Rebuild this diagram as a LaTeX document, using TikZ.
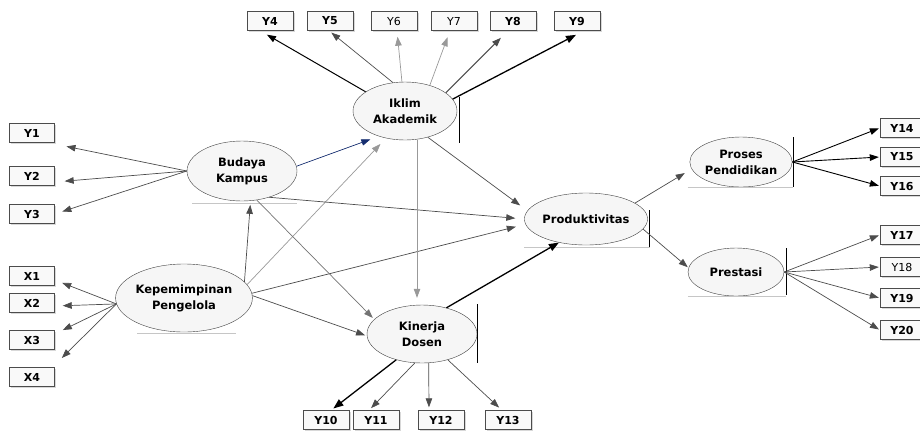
\documentclass[tikz,border=0pt]{standalone}
\usepackage{fontspec}
\setmainfont{DejaVu Sans}
\usetikzlibrary{arrows.meta,shapes.geometric,shadows}
\definecolor{navy}{RGB}{22,46,112}

\begin{document}
\begin{tikzpicture}[x=1pt,y=-1pt,
    latent/.style={ellipse,draw=black!75,fill=gray!7,inner sep=0pt,align=center,
        font=\bfseries\fontsize{11.5}{16}\selectfont},
    ind/.style={draw=black!70,fill=gray!5,minimum width=46pt,minimum height=19pt,inner sep=0pt,
        font=\bfseries\fontsize{11}{13}\selectfont,
        drop shadow={shadow xshift=1.5pt,shadow yshift=-1.5pt,fill=black!30}},
    thin ind/.style={ind,font=\fontsize{11}{13}\selectfont},
    load/.style={draw=black!70,line width=0.7pt,-{Triangle[length=9pt,width=6.5pt]}},
    faint/.style={load,draw=black!40},
    heavy/.style={load,draw=black,line width=1.3pt,-{Triangle[length=10pt,width=7.5pt]}},
    cornerbar/.style={draw=black,line width=0.9pt},
    floorln/.style={draw=gray!45,line width=0.6pt}]
    \useasboundingbox (0,0) rectangle (920,432);

    % latent variables
    \node[latent,minimum width=110pt,minimum height=60pt] (bk) at (242,171) {Budaya\\Kampus};
    \node[latent,minimum width=102pt,minimum height=68pt] (kp) at (184,298) {Kepemimpinan\\Pengelola};
    \node[latent,minimum width=104pt,minimum height=58pt] (ia) at (405,111) {Iklim\\Akademik};
    \node[latent,minimum width=98pt,minimum height=52pt] (pr) at (586,219) {Produktivitas};
    \node[latent,minimum width=110pt,minimum height=58pt] (kd) at (422,334) {Kinerja\\Dosen};
    \node[latent,minimum width=92pt,minimum height=50pt] (pp) at (741,162) {Proses\\Pendidikan};
    \node[latent,minimum width=96pt,minimum height=48pt] (ps) at (736,272) {Prestasi};

    % indicators
    \foreach \n/\t/\y in {y1/Y1/133,y2/Y2/176,y3/Y3/214,x1/X1/276,x2/X2/303,x3/X3/340,x4/X4/377}
        \node[ind,minimum width=45pt] (\n) at (32,\y) {\t};
    \foreach \n/\t/\x in {y4/Y4/270,y5/Y5/330,y8/Y8/513,y9/Y9/577}
        \node[ind] (\n) at (\x,21) {\t};
    \foreach \n/\t/\x in {y6/Y6/394,y7/Y7/454}
        \node[thin ind] (\n) at (\x,21) {\t};
    \foreach \n/\t/\x in {y10/Y10/326,y11/Y11/376,y12/Y12/441,y13/Y13/508}
        \node[ind] (\n) at (\x,420) {\t};
    \foreach \n/\t/\y in {y14/Y14/128,y15/Y15/157,y16/Y16/186,y17/Y17/235,y19/Y19/298,y20/Y20/330}
        \node[ind,minimum width=44pt] (\n) at (902,\y) {\t};
    \node[thin ind,minimum width=44pt] (y18) at (902,267) {Y18};

    % corner marks
    \draw[cornerbar] ([xshift=2pt,yshift=14pt]ia.east) -- ([xshift=2pt,yshift=-32pt]ia.east);
    \draw[cornerbar] ([xshift=2pt,yshift=9pt]pr.east) -- ([xshift=2pt,yshift=-28pt]pr.east);
    \draw[cornerbar] ([yshift=30pt]kd.east) -- ([yshift=-29pt]kd.east);
    \draw[cornerbar] ([xshift=1pt,yshift=25pt]pp.east) -- ([xshift=1pt,yshift=-25pt]pp.east);
    \draw[cornerbar] ([xshift=2pt,yshift=24pt]ps.east) -- ([xshift=2pt,yshift=-23pt]ps.east);
    \draw[floorln] ([yshift=-28pt]pr.west) -- ([xshift=2pt,yshift=-28pt]pr.east);
    \draw[floorln] ([xshift=-2pt,yshift=-25pt]pp.west) -- ([xshift=1pt,yshift=-25pt]pp.east);
    \draw[floorln] ([yshift=-24pt]ps.west) -- ([xshift=2pt,yshift=-24pt]ps.east);
    \draw[floorln] ([xshift=-50pt,yshift=-2pt]bk.south) -- ([xshift=55pt,yshift=-2pt]bk.south);
    \draw[floorln] ([xshift=-47pt,yshift=-1pt]kp.south) -- ([xshift=52pt,yshift=-1pt]kp.south);

    % indicator loadings
    \foreach \n/\dy/\s in {y1/-11/12,y2/-6/10,y3/0/8}
        \draw[load,shorten >=\s pt] (bk.west) -- ([yshift=\dy pt]\n.east);
    \foreach \n/\dy/\s in {x1/-4/8,x2/-3/8,x3/6/9,x4/12/10}
        \draw[load,shorten >=\s pt] (kp.185) -- ([yshift=\dy pt]\n.east);
    \draw[load,draw=black,line width=1pt,shorten >=8pt] (ia.154) -- ([xshift=-10pt]y4.south);
    \draw[load,shorten >=3pt] (ia.113) -- ([xshift=-1pt]y5.south);
    \draw[faint,shorten >=6pt] (ia.96) -- ([xshift=3pt]y6.south);
    \draw[faint,shorten >=7pt] (ia.46) -- ([xshift=-4pt]y7.south);
    \draw[load,line width=1.1pt,shorten >=10pt] (ia.24) -- ([xshift=-5pt]y8.south);
    \draw[heavy,shorten >=9pt] (ia.14) -- ([xshift=7pt]y9.south);
    \draw[heavy,shorten >=3pt] (kd.225) -- ([xshift=5pt]y10.north);
    \draw[load,shorten >=3pt] (kd.256) -- ([xshift=-7pt]y11.north);
    \draw[load,shorten >=3pt] (kd.283) -- ([xshift=-12pt]y12.north);
    \draw[load,shorten >=4pt] (kd.315) -- ([xshift=-6pt]y13.north);
    \foreach \n in {y14,y15,y16}
        \draw[load,draw=black,line width=0.9pt,shorten >=1pt] (pp.east) -- (\n.west);
    \foreach \n in {y17,y18,y19,y20}
        \draw[load,shorten >=1pt] (ps.east) -- (\n.west);

    % structural paths
    \draw[load,draw=navy,shorten >=9pt] (bk.5) -- (ia.224);
    \draw[faint,shorten >=8pt] (kp.12) -- (ia.235);
    \draw[load,shorten >=4pt] (kp.15) -- (bk.286);
    \draw[load,shorten >=2pt] (kp.2) -- (kd.182);
    \draw[load,shorten >=10pt] (kp.4) -- (pr.185);
    \draw[load,shorten >=9pt] (bk.316) -- (pr.180);
    \draw[faint,draw=black!55,shorten >=2pt] (bk.297) -- (kd.163);
    \draw[load,shorten >=9pt] (ia.311) -- (pr.172);
    \draw[faint,shorten >=7pt] ([xshift=12pt]ia.south) -- ([xshift=-5pt]kd.north);
    \draw[heavy] (kd.47) -- (pr.221);
    \draw[load,shorten >=8pt] (pr.18) -- (pp.188);
    \draw[load,shorten >=1pt] (pr.350) -- (ps.175);
\end{tikzpicture}
\end{document}
